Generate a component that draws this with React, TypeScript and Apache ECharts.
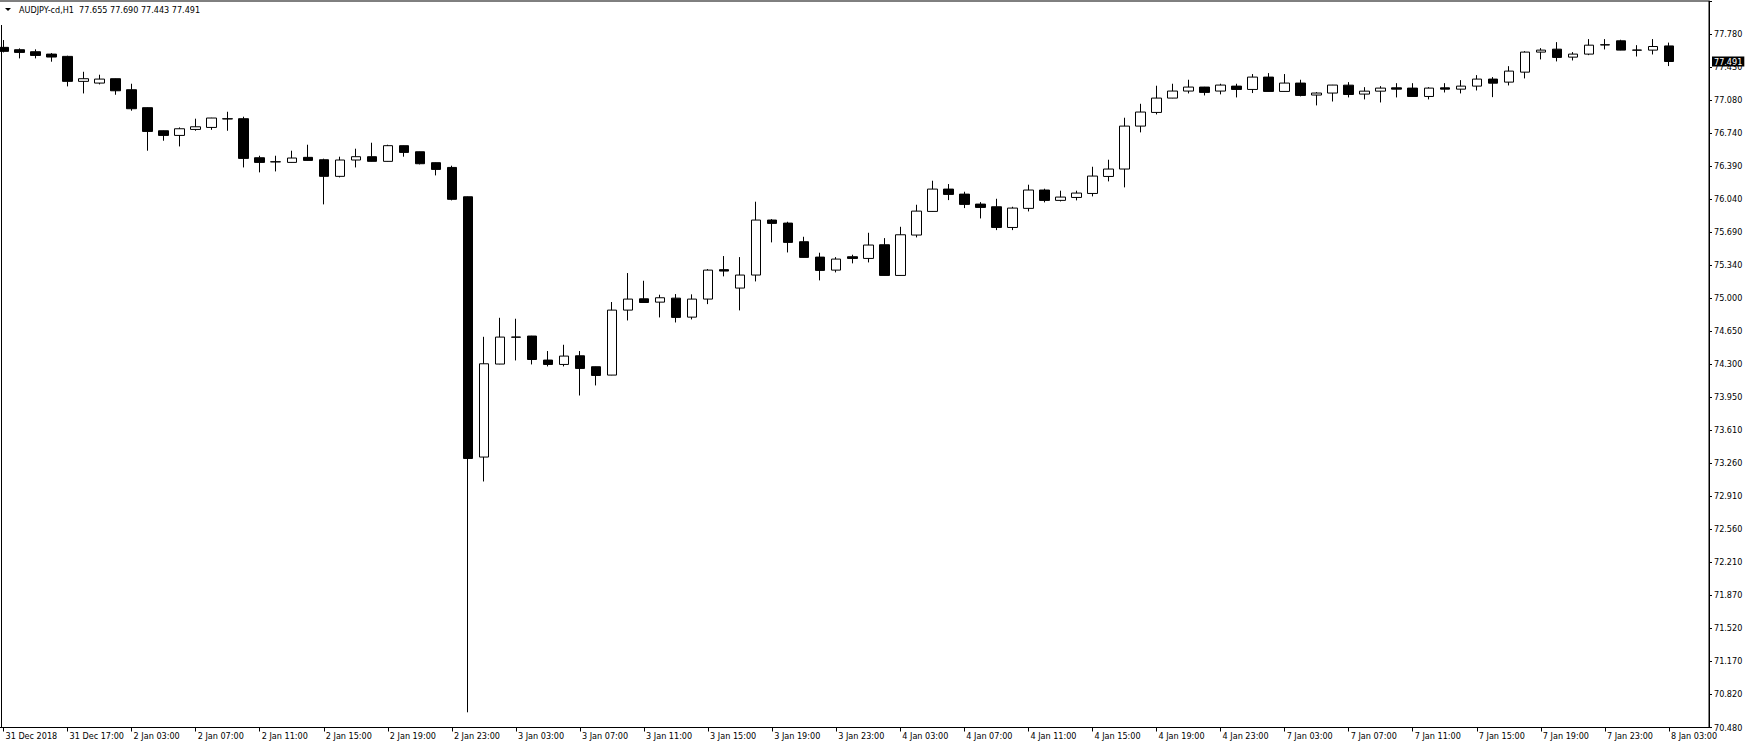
import React, { useEffect, useRef } from "react";
import * as echarts from "echarts";

// ---- data ----
const symbolTitle = "AUDJPY-cd,H1";

// trading sessions (day label, first hour, last hour) -> hourly bar categories
const sessions: [string, number, number][] = [
  ["31 Dec", 13, 17],
  ["2 Jan", 0, 23],
  ["3 Jan", 0, 23],
  ["4 Jan", 0, 23],
  ["7 Jan", 0, 23],
  ["8 Jan", 0, 3],
];
const firstLabel = "31 Dec 2018";

const opens = [
  77.640, 77.615, 77.594, 77.569, 77.545, 77.282, 77.264, 77.310, 77.194, 77.005,
  76.762, 76.713, 76.776, 76.797, 76.886, 76.889, 76.478, 76.434, 76.429, 76.482,
  76.457, 76.282, 76.454, 76.489, 76.440, 76.605, 76.541, 76.426, 76.376, 76.067,
  73.327, 74.306, 74.588, 74.601, 74.348, 74.302, 74.393, 74.278, 74.190, 74.874,
  74.993, 74.958, 75.000, 74.800, 74.990, 75.300, 75.106, 75.243, 75.822, 75.790,
  75.594, 75.432, 75.295, 75.436, 75.418, 75.562, 75.239, 75.664, 75.913, 76.148,
  76.095, 75.990, 75.962, 75.744, 75.945, 76.138, 76.029, 76.060, 76.102, 76.281,
  76.359, 76.811, 76.955, 77.106, 77.180, 77.222, 77.180, 77.232, 77.197, 77.327,
  77.176, 77.264, 77.138, 77.159, 77.242, 77.148, 77.179, 77.214, 77.211, 77.123,
  77.214, 77.200, 77.232, 77.306, 77.274, 77.379, 77.590, 77.621, 77.537, 77.569,
  77.665, 77.709, 77.610, 77.611, 77.655,
];
const closes = [
  77.598, 77.587, 77.555, 77.538, 77.282, 77.310, 77.306, 77.183, 76.994, 76.755,
  76.713, 76.783, 76.804, 76.896, 76.889, 76.471, 76.429, 76.436, 76.475, 76.450,
  76.282, 76.454, 76.489, 76.440, 76.605, 76.534, 76.415, 76.355, 76.040, 73.312,
  74.309, 74.590, 74.591, 74.354, 74.302, 74.390, 74.260, 74.186, 74.874, 74.990,
  74.954, 75.004, 74.797, 74.990, 75.295, 75.285, 75.243, 75.822, 75.787, 75.587,
  75.429, 75.292, 75.411, 75.418, 75.559, 75.239, 75.667, 75.916, 76.148, 76.092,
  75.987, 75.955, 75.744, 75.948, 76.138, 76.029, 76.064, 76.106, 76.285, 76.359,
  76.811, 76.959, 77.106, 77.180, 77.222, 77.166, 77.243, 77.197, 77.327, 77.176,
  77.264, 77.134, 77.159, 77.243, 77.144, 77.179, 77.211, 77.200, 77.123, 77.211,
  77.200, 77.232, 77.306, 77.263, 77.390, 77.590, 77.611, 77.534, 77.569, 77.663,
  77.668, 77.611, 77.612, 77.649, 77.491,
];
const lows = [
  77.587, 77.524, 77.524, 77.489, 77.229, 77.155, 77.250, 77.141, 76.973, 76.552,
  76.657, 76.597, 76.762, 76.772, 76.762, 76.376, 76.324, 76.334, 76.427, 76.448,
  75.987, 76.271, 76.376, 76.438, 76.438, 76.489, 76.408, 76.292, 76.029, 70.640,
  73.070, 74.304, 74.344, 74.302, 74.281, 74.281, 73.975, 74.081, 74.188, 74.765,
  74.952, 74.797, 74.744, 74.776, 74.937, 75.229, 74.871, 75.176, 75.587, 75.481,
  75.427, 75.187, 75.271, 75.366, 75.376, 75.237, 75.237, 75.639, 75.911, 76.032,
  75.948, 75.839, 75.716, 75.716, 75.913, 76.008, 76.018, 76.029, 76.071, 76.229,
  76.166, 76.745, 76.934, 77.104, 77.155, 77.134, 77.145, 77.113, 77.159, 77.174,
  77.174, 77.124, 77.029, 77.070, 77.113, 77.092, 77.060, 77.113, 77.121, 77.092,
  77.165, 77.155, 77.186, 77.116, 77.239, 77.313, 77.513, 77.492, 77.502, 77.558,
  77.618, 77.609, 77.544, 77.565, 77.443,
];
const highs = [
  77.717, 77.629, 77.619, 77.580, 77.552, 77.383, 77.352, 77.312, 77.257, 77.008,
  76.765, 76.797, 76.889, 76.898, 76.962, 76.910, 76.499, 76.499, 76.552, 76.615,
  76.468, 76.489, 76.573, 76.636, 76.615, 76.607, 76.543, 76.428, 76.394, 76.070,
  74.593, 74.793, 74.783, 74.603, 74.443, 74.509, 74.443, 74.280, 74.959, 75.264,
  75.183, 75.036, 75.043, 75.040, 75.306, 75.443, 75.432, 76.015, 75.832, 75.804,
  75.646, 75.478, 75.432, 75.457, 75.688, 75.632, 75.751, 75.983, 76.236, 76.201,
  76.120, 76.011, 76.046, 75.962, 76.194, 76.152, 76.131, 76.131, 76.383, 76.457,
  76.899, 77.046, 77.236, 77.257, 77.299, 77.224, 77.257, 77.257, 77.359, 77.369,
  77.359, 77.299, 77.169, 77.245, 77.274, 77.221, 77.232, 77.263, 77.263, 77.221,
  77.263, 77.295, 77.348, 77.327, 77.442, 77.600, 77.632, 77.695, 77.590, 77.727,
  77.727, 77.720, 77.663, 77.727, 77.690,
];

// price scale tick labels (bottom to top)
const yTickLabels = [
  "70.480", "70.820", "71.170", "71.520", "71.870", "72.210", "72.560", "72.910",
  "73.260", "73.610", "73.950", "74.300", "74.650", "75.000", "75.340", "75.690",
  "76.040", "76.390", "76.740", "77.080", "77.430", "77.780",
];
const Y_MIN = 70.48;
const Y_MAX = 78.128;
const Y_STEP = 0.347619;
const EMPTY_SLOTS = 2; // chart shift space on the right

const FONT = "'DejaVu Sans Condensed', 'DejaVu Sans', sans-serif";

function buildCategories(): string[] {
  const cats: string[] = [];
  sessions.forEach(([day, h0, h1]) => {
    for (let h = h0; h <= h1; h++) {
      cats.push(`${day} ${String(h).padStart(2, "0")}:00`);
    }
  });
  for (let i = 0; i < EMPTY_SLOTS; i++) cats.push("");
  return cats;
}

export default function App() {
  const ref = useRef<HTMLDivElement>(null);

  useEffect(() => {
    if (!ref.current) return;
    const chart = echarts.init(ref.current, null, { renderer: "svg" });
    const categories = buildCategories();
    const ohlc = opens.map((o, i) => [o, closes[i], lows[i], highs[i]]);
    const last = ohlc.length - 1;
    const o = opens[last], h = highs[last], l = lows[last], c = closes[last];

    chart.setOption({
      animation: false,
      backgroundColor: "#ffffff",
      grid: {
        left: -4.5,
        right: 41,
        top: 1,
        bottom: 22.5,
        show: true,
        borderColor: "#000",
        borderWidth: 1,
        containLabel: false,
        outerBoundsMode: "none",
      },
      xAxis: {
        type: "category",
        data: categories,
        boundaryGap: true,
        axisLine: { show: true, lineStyle: { color: "#000", width: 1 } },
        axisTick: {
          show: true,
          alignWithLabel: true,
          interval: 3,
          length: 4,
          lineStyle: { color: "#000" },
        },
        axisLabel: {
          show: true,
          interval: 3,
          align: "left",
          margin: 4,
          padding: [0, 0, 0, 2],
          color: "#000",
          fontSize: 9,
          fontFamily: FONT,
          formatter: (v: string, i: number) => (i === 0 ? firstLabel : v),
        },
        splitLine: { show: false },
      },
      yAxis: {
        type: "value",
        position: "right",
        min: Y_MIN,
        max: Y_MAX,
        interval: Y_STEP,
        scale: true,
        axisLine: { show: true, lineStyle: { color: "#000", width: 1 } },
        axisTick: { show: true, length: 3, lineStyle: { color: "#000" } },
        axisLabel: {
          show: true,
          margin: 5,
          color: "#000",
          fontSize: 9,
          fontFamily: FONT,
          showMaxLabel: false,
          formatter: (v: number) => {
            const k = Math.round((v - Y_MIN) / Y_STEP);
            if (Math.abs(v - (Y_MIN + k * Y_STEP)) > 1e-4) return "";
            return yTickLabels[k] ?? "";
          },
        },
        splitLine: { show: false },
      },
      series: [
        {
          type: "candlestick",
          data: ohlc,
          barWidth: 10,
          itemStyle: {
            color: "#ffffff",
            color0: "#000000",
            borderColor: "#000000",
            borderColor0: "#000000",
            borderColorDoji: "#000000",
            borderWidth: 1,
          },
          markLine: {
            silent: true,
            symbol: ["none", "none"],
            lineStyle: { color: "rgba(0,0,0,0)", width: 0, type: "solid" },
            label: {
              show: true,
              position: "end",
              distance: 3,
              color: "#ffffff",
              backgroundColor: "#000000",
              opacity: 1,
              padding: [1, 2, 0, 2],
              fontSize: 9,
              fontFamily: FONT,
              formatter: () => c.toFixed(3),
            },
            emphasis: { disabled: true },
            data: [{ yAxis: c }],
          },
        },
      ],
      graphic: [
        {
          type: "polygon",
          shape: { points: [[5, 8], [11, 8], [8, 11]] },
          style: { fill: "#000" },
        },
        {
          type: "text",
          x: 19,
          y: 10,
          style: {
            text: `${symbolTitle}  ${o.toFixed(3)} ${h.toFixed(3)} ${l.toFixed(3)} ${c.toFixed(3)}`,
            fill: "#000",
            font: `9px ${FONT}`,
            verticalAlign: "middle",
          },
        },
        {
          type: "line",
          shape: { x1: 1.5, y1: 25, x2: 1.5, y2: 727.5 },
          style: { stroke: "#000", lineWidth: 1 },
        },
      ],
    });
    return () => chart.dispose();
  }, []);

  return (
    <div
      ref={ref}
      style={{ position: "fixed", left: 0, top: 0, width: 1750, height: 750, background: "#fff" }}
    />
  );
}
